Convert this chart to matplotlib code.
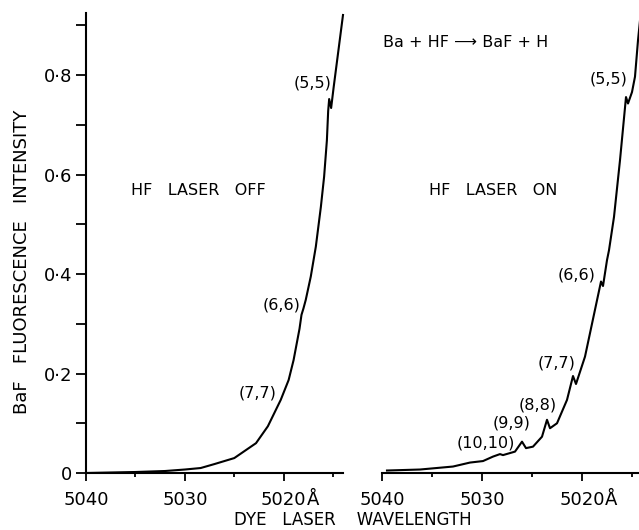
import matplotlib
matplotlib.use('Agg')
import matplotlib.pyplot as plt
from matplotlib.ticker import FixedLocator

# ___ datos (longitud de onda en A, intensidad) ___
wl_off = [5040.0, 5035.0, 5032.0, 5030.0, 5028.4, 5027.0, 5025.0, 5022.8, 5021.6,
          5020.3, 5019.5, 5019.0, 5018.4, 5018.2, 5018.0, 5017.77, 5017.26, 5016.75,
          5016.24, 5015.91, 5015.63, 5015.5, 5015.4, 5015.2, 5014.95, 5014.0]
int_off = [0.000, 0.002, 0.004, 0.007, 0.010, 0.018, 0.030, 0.060, 0.094,
           0.147, 0.187, 0.227, 0.290, 0.318, 0.331, 0.348, 0.395, 0.455,
           0.535, 0.596, 0.669, 0.728, 0.752, 0.734, 0.775, 0.921]

wl_on = [5039.5, 5036.2, 5032.9, 5031.2, 5029.9, 5028.9, 5028.2, 5027.9, 5026.7,
         5026.0, 5025.6, 5024.9, 5024.0, 5023.5, 5023.2, 5022.5, 5021.5, 5020.9,
         5020.6, 5019.7, 5018.1, 5017.9, 5017.5, 5017.3, 5016.8, 5016.2, 5015.6,
         5015.4, 5015.0, 5014.7, 5014.4, 5014.1]
int_on = [0.005, 0.007, 0.013, 0.021, 0.024, 0.033, 0.038, 0.036, 0.043,
          0.063, 0.050, 0.053, 0.073, 0.107, 0.090, 0.100, 0.147, 0.195,
          0.179, 0.234, 0.385, 0.376, 0.428, 0.448, 0.515, 0.629, 0.756,
          0.743, 0.766, 0.797, 0.870, 0.930]

# etiquetas (v',v'') y su posicion
lab_off = ['(5,5)', '(6,6)', '(7,7)']
lab_off_x = [5017.06, 5020.2, 5022.6]
lab_off_y = [0.784, 0.338, 0.161]

lab_on = ['(5,5)', '(6,6)', '(7,7)', '(8,8)', '(9,9)', '(10,10)']
lab_on_x = [5017.3, 5020.5, 5022.5, 5024.4, 5027.0, 5029.6]
lab_on_y = [0.792, 0.398, 0.221, 0.137, 0.100, 0.060]

yticks = [0, 0.2, 0.4, 0.6, 0.8]
ytick_labels = ['0', '0\u00b72', '0\u00b74', '0\u00b76', '0\u00b78']
xticks = [5040, 5030, 5020]
xtick_labels = ['5040', '5030', '5020']

plt.rcParams['font.family'] = ['DejaVu Sans']

W, H = 639, 530
fig = plt.figure(figsize=[6.39, 5.30], dpi=100)

ax1 = fig.add_axes([86/W, 57/H, 257/W, 460/H])
ax2 = fig.add_axes([382/W, 57/H, 257/W, 460/H])

ymax = 0.925
for ax, xmax in ((ax1, 5014.0), (ax2, 5014.3)):
    ax.set_xlim(5040, xmax)
    ax.set_ylim(0, ymax)
    ax.spines['top'].set_visible(False)
    ax.spines['right'].set_visible(False)
    ax.spines['bottom'].set_linewidth(1.5)
    ax.spines['left'].set_linewidth(1.5)
    ax.xaxis.set_major_locator(FixedLocator(xticks))
    ax.set_xticklabels(xtick_labels, fontsize=13)
    ax.xaxis.set_minor_locator(FixedLocator([5035, 5025, 5015]))
    ax.tick_params(axis='x', which='major', direction='out', length=6, width=1.3, pad=7)
    ax.tick_params(axis='x', which='minor', direction='out', length=3, width=1.3)
    # el simbolo de angstrom va pegado a la etiqueta 5020
    ax.annotate('\u00c5', xy=(5020, 0), xycoords=('data', 'axes fraction'),
                xytext=(16.5, -23), textcoords='offset points', fontsize=13,
                ha='left', va='baseline')
    ax.patch.set_visible(False)

# eje y solo en el panel izquierdo
ax1.yaxis.set_major_locator(FixedLocator(yticks))
ax1.set_yticklabels(ytick_labels, fontsize=13)
ax1.yaxis.set_minor_locator(FixedLocator([0.1, 0.3, 0.5, 0.7, 0.9]))
ax1.tick_params(axis='y', which='both', direction='out', length=7, width=1.3, pad=3)
ax2.spines['left'].set_visible(False)
ax2.set_yticks([])

ax1.plot(wl_off, int_off, 'k-', linewidth=1.5, clip_on=False)
ax2.plot(wl_on, int_on, 'k-', linewidth=1.5)

for t, x, y in zip(lab_off, lab_off_x, lab_off_y):
    ax1.text(x, y, t, fontsize=11.5, ha='center', va='center')
for t, x, y in zip(lab_on, lab_on_x, lab_on_y):
    ax2.text(x, y, t, fontsize=11.5, ha='center', va='center')

ax1.text(5028.6, 0.569, 'HF   LASER   OFF', fontsize=11.5, ha='center', va='center')
ax2.text(5028.9, 0.569, 'HF   LASER   ON', fontsize=11.5, ha='center', va='center')
ax2.text(5031.6, 0.866, 'Ba + HF \u27f6 BaF + H', fontsize=11.5, ha='center', va='center')

fig.text(22/W, 1 - 262/H, 'BaF   FLUORESCENCE   INTENSITY', rotation=90,
         fontsize=13, ha='center', va='center')
fig.text(353/W, 1 - 520/H, 'DYE   LASER    WAVELENGTH', fontsize=12,
         ha='center', va='center')

plt.savefig('out.png', dpi=100)
